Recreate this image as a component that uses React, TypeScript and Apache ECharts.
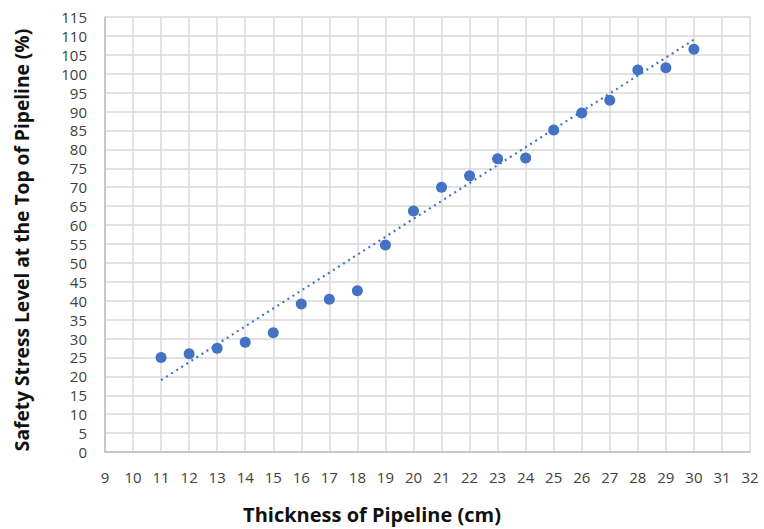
import React, { useEffect, useRef } from "react";
import * as echarts from "echarts";

const thickness = [11, 12, 13, 14, 15, 16, 17, 18, 19, 20, 21, 22, 23, 24, 25, 26, 27, 28, 29, 30];
const stressLevel = [25, 26, 27.4, 29, 31.5, 39.1, 40.4, 42.6, 54.7, 63.7, 70, 73, 77.5, 77.7, 85.1, 89.6, 93, 101, 101.6, 106.5];
// linear trendline endpoints
const trendX = [11, 30];
const trendY = [19.0, 109.0];
const xTitle = "Thickness of Pipeline (cm)";
const yTitle = "Safety Stress Level at the Top of Pipeline (%)";

export default function App() {
  const ref = useRef<HTMLDivElement>(null);
  useEffect(() => {
    if (!ref.current) return;
    const chart = echarts.init(ref.current, undefined, { renderer: "svg" });
    const font = "'Open Sans', sans-serif";
    chart.setOption({
      animation: false,
      backgroundColor: "#ffffff",
      grid: { left: 105, right: 14, top: 17, bottom: 77, outerBoundsMode: "none" },
      graphic: [
        {
          type: "text",
          x: 372,
          y: 514,
          style: {
            text: xTitle, fontFamily: font, fontSize: 20, fontWeight: "bold", fill: "#111111",
            align: "center", verticalAlign: "middle",
          },
        },
        {
          type: "text",
          x: 21,
          y: 240,
          rotation: Math.PI / 2,
          style: {
            text: yTitle, fontFamily: font, fontSize: 19.2, fontWeight: "bold", fill: "#111111",
            align: "center", verticalAlign: "middle",
          },
        },
      ],
      xAxis: {
        type: "value",
        min: 9,
        max: 32,
        interval: 1,
        axisLine: { show: true, lineStyle: { color: "#bfbfbf", width: 1.5 } },
        axisTick: { show: false },
        axisLabel: { fontFamily: font, fontSize: 15, lineHeight: 16, color: "#404040", margin: 17 },
        splitLine: { show: true, lineStyle: { color: "#d9d9d9", width: 1.5 } },
      },
      yAxis: {
        type: "value",
        min: 0,
        max: 115,
        interval: 5,
        axisLine: { show: true, lineStyle: { color: "#bfbfbf", width: 1.5 } },
        axisTick: { show: false },
        axisLabel: { fontFamily: font, fontSize: 15, lineHeight: 16, color: "#404040", margin: 18 },
        splitLine: { show: true, lineStyle: { color: "#d9d9d9", width: 1.5 } },
      },
      series: [
        {
          type: "line",
          data: trendX.map((x, i) => [x, trendY[i]]),
          symbol: "none",
          lineStyle: { color: "#4472C4", width: 2.2, type: [2, 4] },
          z: 2,
        },
        {
          type: "scatter",
          data: thickness.map((x, i) => [x, stressLevel[i]]),
          symbol: "circle",
          symbolSize: 11,
          itemStyle: { color: "#4472C4", opacity: 1 },
          z: 3,
        },
      ],
    });
    return () => chart.dispose();
  }, []);
  return <div ref={ref} style={{ width: 764, height: 529, position: "absolute", left: 0, top: 0 }} />;
}
